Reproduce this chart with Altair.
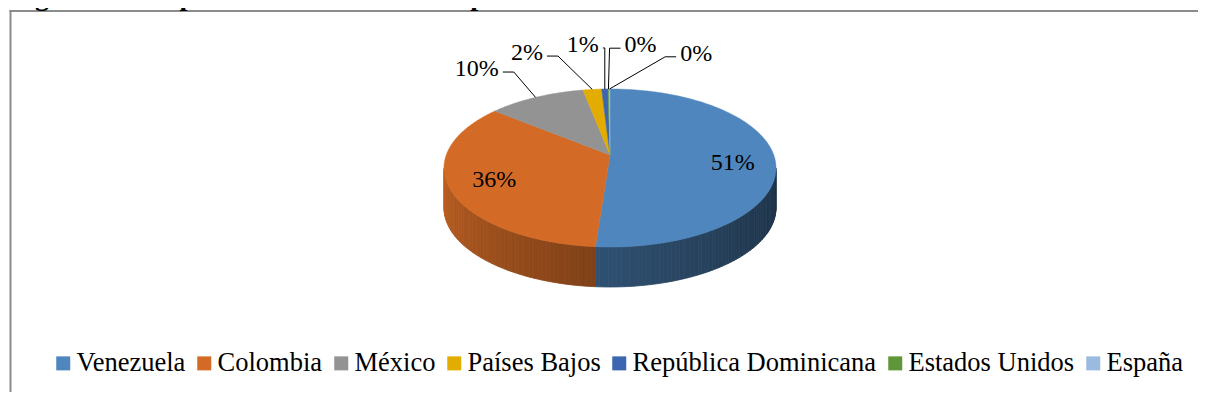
import math
import altair as alt
import pandas as pd

# ---------------- data ----------------
countries = ["Venezuela", "Colombia", "México", "Países Bajos",
             "República Dominicana", "Estados Unidos", "España"]
shares = [51.4, 36.4, 9.6, 1.8, 0.6, 0.1, 0.1]
colors = ["#4F86BD", "#D36B27", "#939393", "#E3AC00", "#3C66AF", "#5F9639", "#9BBADF"]
title_text = "Figura 1.2. Exportaciones de aceite de palma"

# ---------------- layout / style (pixels) ----------------
W, H = 1190, 384          # whole drawing
CX, CY = 602, 160         # centre of the pie rim inside the drawing
RX, RY = 166.0, 79.0      # rim ellipse
DEPTH = 40.0              # thickness of the 3-D pie
APEX = 13.0               # perspective shift of the pie centre
SERIF = "Liberation Serif"
LABEL_SIZE = 24
IN_FRAC = 0.74
OUT_A, OUT_B = RX + 55, RY + 45
MIN_SEP = 15.0

xs = alt.Scale(domain=[-CX, W - CX], nice=False, zero=False)
ys = alt.Scale(domain=[CY - H, CY], nice=False, zero=False)


def rim(deg):
    t = math.radians(deg)
    return RX * math.sin(t), RY * math.cos(t)


def shade(hexcol, f):
    r, g, b = (int(hexcol[k:k + 2], 16) for k in (1, 3, 5))
    return "#%02X%02X%02X" % tuple(max(0, min(255, round(c * f))) for c in (r, g, b))


def arc_angles(a, b, step=1.0):
    n = max(1, math.ceil((b - a) / step))
    return [a + (b - a) * k / n for k in range(n + 1)]


total = sum(shares)
bounds = []
acc = 0.0
for s in shares:
    a = acc / total * 360
    acc += s
    bounds.append((a, acc / total * 360))

# top faces
top_rows = []
for i, (a, b) in enumerate(bounds):
    pts = [(0.0, APEX)] + [rim(t) for t in arc_angles(a, b)]
    for k, (x, y) in enumerate(pts):
        top_rows.append(dict(slice=countries[i], i=k, x=x, y=y, hex=colors[i]))
top_df = pd.DataFrame(top_rows)

# side walls (front half only), shaded strips
side_rows = []
sid = 0
for i, (a, b) in enumerate(bounds):
    lo, hi = max(a, 90.0), min(b, 270.0)
    if hi <= lo:
        continue
    ts = arc_angles(lo, hi, 1.5)
    for t0, t1 in zip(ts[:-1], ts[1:]):
        tm = (t0 + t1) / 2
        col = shade(colors[i], 0.38 + 0.52 * ((tm - 90) / 180) ** 1.3)
        x0, y0 = rim(t0)
        x1, y1 = rim(t1)
        quad = [(x0, y0), (x1, y1), (x1, y1 - DEPTH), (x0, y0 - DEPTH)]
        for k, (x, y) in enumerate(quad):
            side_rows.append(dict(strip=sid, i=k, x=x, y=y, hex=col))
        sid += 1
side_df = pd.DataFrame(side_rows)

# labels
lab_rows, lead_rows, outs = [], [], []
for i, (a, b) in enumerate(bounds):
    mid = (a + b) / 2
    pct = shares[i] / total * 100
    txt = f"{round(pct):.0f}%"
    if pct >= 15:
        rx_, ry_ = rim(mid)
        lab_rows.append(dict(x=IN_FRAC * rx_, y=APEX + IN_FRAC * (ry_ - APEX) + 4, text=txt))
    else:
        signed = mid - 360 if mid > 180 else mid
        outs.append([signed, i, txt, mid])

outs.sort()
clusters = [[o] for o in outs]


def positions(cl):
    c = sum(o[0] for o in cl) / len(cl)
    return [c + (k - (len(cl) - 1) / 2) * MIN_SEP for k in range(len(cl))]


changed = True
while changed:
    changed = False
    for j in range(len(clusters) - 1):
        if positions(clusters[j])[-1] + MIN_SEP > positions(clusters[j + 1])[0] + 1e-9:
            clusters[j] = clusters[j] + clusters.pop(j + 1)
            changed = True
            break

for cl in clusters:
    for phi, (signed, i, txt, mid) in zip(positions(cl), cl):
        p = math.radians(phi)
        lx, ly = OUT_A * math.sin(p), OUT_B * math.cos(p)
        lab_rows.append(dict(x=lx, y=ly, text=txt))
        ex, ey = rim(mid)
        w = LABEL_SIZE * (0.5 * (len(txt) - 1) + 0.833)
        d = 1 if ex > lx else -1
        sx, sy = lx + d * (w / 2 + 4), ly - 3
        dx = ex - sx
        bx = sx + d * min(11, abs(dx)) if d * dx > 0 else sx
        for k, (x, y) in enumerate([(sx, sy), (bx, sy), (ex, ey)]):
            lead_rows.append(dict(lab=i, i=k, x=x, y=y))
lab_df = pd.DataFrame(lab_rows)
lead_df = pd.DataFrame(lead_rows)

X = alt.X("x:Q", scale=xs, axis=None)
Y = alt.Y("y:Q", scale=ys, axis=None)

sides = alt.Chart(side_df).mark_line(interpolate="linear-closed", strokeWidth=0.8).encode(
    x=X, y=Y, detail="strip:N", order="i:Q",
    fill=alt.Fill("hex:N", scale=None), stroke=alt.Stroke("hex:N", scale=None))

tops = alt.Chart(top_df).mark_line(interpolate="linear-closed", strokeWidth=0.5).encode(
    x=X, y=Y, detail="slice:N", order="i:Q",
    fill=alt.Fill("hex:N", scale=None), stroke=alt.Stroke("hex:N", scale=None))

leaders = alt.Chart(lead_df).mark_line(color="black", strokeWidth=1).encode(
    x=X, y=Y, detail="lab:N", order="i:Q")

texts = alt.Chart(lab_df).mark_text(font=SERIF, fontSize=LABEL_SIZE, color="black",
                                    align="center", baseline="middle").encode(
    x=X, y=Y, text="text:N")

one = pd.DataFrame({"t": [title_text]})
title = alt.Chart(one).mark_text(font=SERIF, fontSize=28, fontWeight="bold", color="black",
                                 align="left", baseline="alphabetic").encode(
    x=alt.value(2), y=alt.value(-3), text="t:N")

frame_left = alt.Chart(one).mark_rule(color="#8C8C8C", strokeWidth=2).encode(
    x=alt.value(2.5), y=alt.value(2), y2=alt.value(H))
frame_top = alt.Chart(one).mark_rule(color="#8C8C8C", strokeWidth=2).encode(
    x=alt.value(1.5), x2=alt.value(W), y=alt.value(3))

legend_layer = alt.Chart(pd.DataFrame({"country": countries})).mark_square(size=196, opacity=1).encode(
    x=alt.value(-60), y=alt.value(-60),
    color=alt.Color("country:N", sort=countries,
                    scale=alt.Scale(domain=countries, range=colors),
                    legend=alt.Legend(orient="none", legendX=42, legendY=342,
                                      direction="horizontal", columns=7, title=None,
                                      symbolType="square", symbolSize=196,
                                      symbolStrokeWidth=0, symbolOpacity=1,
                                      labelFont=SERIF, labelFontSize=26.5,
                                      labelColor="black", labelOffset=0,
                                      columnPadding=5, labelLimit=600, padding=0)))

chart = alt.layer(frame_left, frame_top, sides, tops, leaders, texts, title, legend_layer).properties(
    width=W, height=H, padding=0, background="white",
    autosize=alt.AutoSizeParams(type="none"),
).configure_view(stroke=None)

chart.save("out.html", embed_options={"renderer": "svg", "actions": False})
